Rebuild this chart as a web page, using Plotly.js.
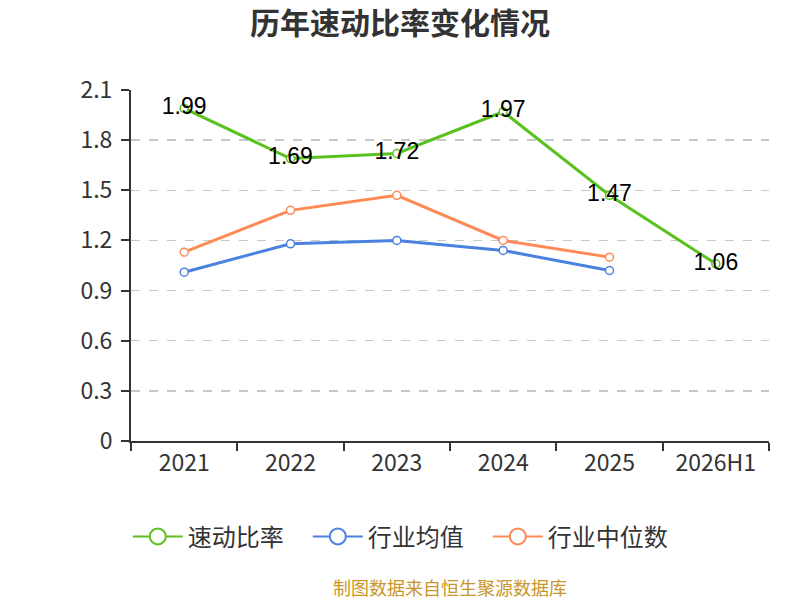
<!DOCTYPE html>
<html>
<head>
<meta charset="utf-8">
<script src="https://cdn.plot.ly/plotly-3.0.1.min.js"></script>
<style>
  html, body { margin: 0; padding: 0; background: #fff; }
  #chart { width: 800px; height: 600px; }
</style>
</head>
<body>
<div id="chart"></div>
<script>
let years = ['2021', '2022', '2023', '2024', '2025', '2026H1'];
let quickRatio = [1.99, 1.69, 1.72, 1.97, 1.47, 1.06];
let industryMean = [1.01, 1.18, 1.2, 1.14, 1.02];
let industryMedian = [1.13, 1.38, 1.47, 1.2, 1.1];
let yTicks = [0, 0.3, 0.6, 0.9, 1.2, 1.5, 1.8, 2.1];

let colors = ['#5ac21e', '#4b82e0', '#fe8b57'];
let names = ['速动比率', '行业均值', '行业中位数'];
let font = '"Noto Sans CJK SC", "Noto Sans", sans-serif';

function series(y, i, extra) {
  return {
    x: years.slice(0, y.length),
    y: y,
    type: 'scatter',
    mode: 'lines+markers',
    name: names[i],
    showlegend: false,
    line: { color: colors[i], width: 3 },
    marker: { symbol: 'circle', size: 8, color: '#fff', line: { color: colors[i], width: 1.5 } },
    hoverinfo: 'skip',
    ...extra,
  };
}

// legend entries get their own bigger markers
function legendItem(i) {
  return {
    x: [null],
    y: [null],
    type: 'scatter',
    mode: 'lines+markers',
    name: names[i],
    line: { color: colors[i], width: 2 },
    marker: { symbol: 'circle', size: 16, color: '#fff', line: { color: colors[i], width: 2 } },
  };
}

let data = [
  series(industryMean, 1),
  series(industryMedian, 2),
  series(quickRatio, 0, {
    mode: 'lines+markers+text',
    text: quickRatio.map(v => v.toFixed(2)),
    textposition: 'middle center',
    textfont: { family: '"Liberation Sans", Arial, sans-serif', size: 23, color: '#000' },
  }),
  legendItem(0),
  legendItem(1),
  legendItem(2),
];

let layout = {
  width: 800,
  height: 600,
  paper_bgcolor: '#fff',
  plot_bgcolor: '#fff',
  margin: { t: 90, r: 31, b: 159, l: 131 },
  font: { family: font, color: '#333' },
  title: {
    text: '<b>历年速动比率变化情况</b>',
    x: 0.5,
    xanchor: 'center',
    y: 0.961,
    yanchor: 'middle',
    font: { family: font, size: 30, color: '#333' },
  },
  xaxis: {
    type: 'category',
    categoryorder: 'array',
    categoryarray: years,
    range: [-0.5, 5.5],
    showline: true,
    linecolor: '#333',
    linewidth: 2,
    ticks: 'outside',
    tickson: 'boundaries',
    ticklen: 8,
    tickwidth: 2,
    tickcolor: '#333',
    showgrid: false,
    zeroline: false,
    tickfont: { family: font, size: 23, color: '#333' },
    fixedrange: true,
  },
  yaxis: {
    range: [0, 2.1],
    tickvals: yTicks,
    ticktext: yTicks.map(v => String(v)),
    showline: true,
    linecolor: '#333',
    linewidth: 2,
    ticks: 'outside',
    ticklen: 8,
    tickwidth: 2,
    tickcolor: '#333',
    showgrid: true,
    gridcolor: '#c8c8c8',
    gridwidth: 1.5,
    griddash: 'dash',
    zeroline: false,
    ticklabelstandoff: 4,
    tickfont: { family: font, size: 23, color: '#333' },
    fixedrange: true,
  },
  legend: {
    orientation: 'h',
    x: -0.005,
    xanchor: 'left',
    y: -0.273,
    yanchor: 'middle',
    itemwidth: 50,
    entrywidth: 115,
    entrywidthmode: 'pixels',
    font: { family: font, size: 24, color: '#333' },
    tracegroupgap: 0,
  },
  annotations: [
    {
      xref: 'paper',
      yref: 'paper',
      x: 0.5,
      y: -0.416,
      xanchor: 'center',
      yanchor: 'middle',
      showarrow: false,
      text: '制图数据来自恒生聚源数据库',
      font: { family: font, size: 18, color: '#c8962a' },
    },
  ],
};

Plotly.newPlot('chart', data, layout, { staticPlot: true });
</script>
</body>
</html>
